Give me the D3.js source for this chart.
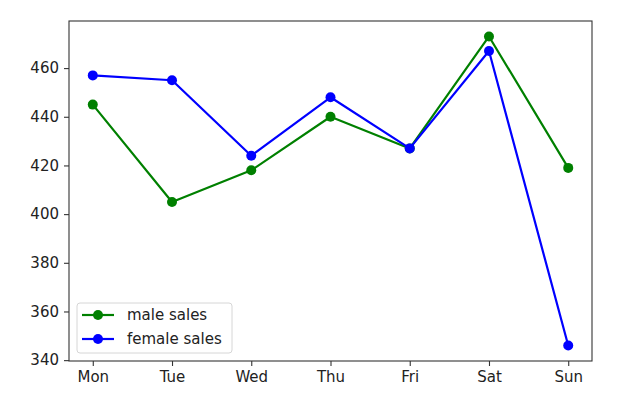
<!DOCTYPE html>
<html>
<head>
<meta charset="utf-8">
<script src="https://cdn.jsdelivr.net/npm/d3@7"></script>
<style>
  html, body { margin: 0; padding: 0; background: #fff; }
  svg { display: block; font-family: "DejaVu Sans", sans-serif; }
</style>
</head>
<body>
<svg id="chart" width="636" height="417"></svg>
<script>
const days = ["Mon", "Tue", "Wed", "Thu", "Fri", "Sat", "Sun"];
const maleSales = [445, 405, 418, 440, 427, 473, 419];
const femaleSales = [457, 455, 424, 448, 427, 467, 346];
const yTicks = [340, 360, 380, 400, 420, 440, 460];
const seriesNames = ["male sales", "female sales"];
const seriesColors = ["green", "blue"];

(function () {
const svg = d3.select("#chart");
const pLeft = 69, pRight = 592, pTop = 21, pBottom = 361;

const x = d3.scaleLinear().domain([-0.3, 6.3]).range([pLeft, pRight]);
const allVals = maleSales.concat(femaleSales);
const ymin = d3.min(allVals), ymax = d3.max(allVals);
const pad = (ymax - ymin) * 0.05;
const y = d3.scaleLinear().domain([ymin - pad, ymax + pad]).range([pBottom, pTop]);

const fontSize = "15px";
const axisColor = "#333";

// x axis
const xAxis = d3.axisBottom(x)
  .tickValues(d3.range(days.length))
  .tickFormat(i => days[i])
  .tickSize(5).tickPadding(5);
const gx = svg.append("g").attr("transform", `translate(0,${pBottom})`).call(xAxis);
gx.select(".domain").remove();
gx.selectAll("line").attr("stroke", axisColor).attr("stroke-width", 1.1);
gx.selectAll("text").attr("font-size", fontSize).attr("fill", "#222").attr("font-family", "DejaVu Sans");

// y axis
const yAxis = d3.axisLeft(y).tickValues(yTicks).tickSize(5).tickPadding(5);
const gy = svg.append("g").attr("transform", `translate(${pLeft},0)`).call(yAxis);
gy.select(".domain").remove();
gy.selectAll("line").attr("stroke", axisColor).attr("stroke-width", 1.1);
gy.selectAll("text").attr("font-size", fontSize).attr("fill", "#222").attr("font-family", "DejaVu Sans");

// frame
svg.append("rect")
  .attr("x", pLeft).attr("y", pTop)
  .attr("width", pRight - pLeft).attr("height", pBottom - pTop)
  .attr("fill", "none").attr("stroke", axisColor).attr("stroke-width", 1.1);

const series = [maleSales, femaleSales];
const line = d3.line().x((d, i) => x(i)).y(d => y(d));

series.forEach((vals, si) => {
  svg.append("path")
    .datum(vals)
    .attr("d", line)
    .attr("fill", "none")
    .attr("stroke", seriesColors[si])
    .attr("stroke-width", 2.2)
    .attr("stroke-linejoin", "round");
  svg.append("g").selectAll("circle").data(vals).join("circle")
    .attr("cx", (d, i) => x(i))
    .attr("cy", d => y(d))
    .attr("r", 5)
    .attr("fill", seriesColors[si]);
});

// legend
const lg = svg.append("g");
lg.append("rect")
  .attr("x", 77).attr("y", 303).attr("width", 155).attr("height", 50)
  .attr("rx", 3).attr("ry", 3)
  .attr("fill", "rgba(255,255,255,0.8)")
  .attr("stroke", "#d6d6d6").attr("stroke-width", 1);
seriesNames.forEach((name, i) => {
  const yy = 315 + i * 24;
  lg.append("line").attr("x1", 82).attr("x2", 114).attr("y1", yy).attr("y2", yy)
    .attr("stroke", seriesColors[i]).attr("stroke-width", 2.2);
  lg.append("circle").attr("cx", 98).attr("cy", yy).attr("r", 5).attr("fill", seriesColors[i]);
  lg.append("text").attr("x", 127).attr("y", yy).attr("dy", "0.35em")
    .attr("font-size", fontSize).attr("fill", "#222").text(name);
});
})();
</script>
</body>
</html>
